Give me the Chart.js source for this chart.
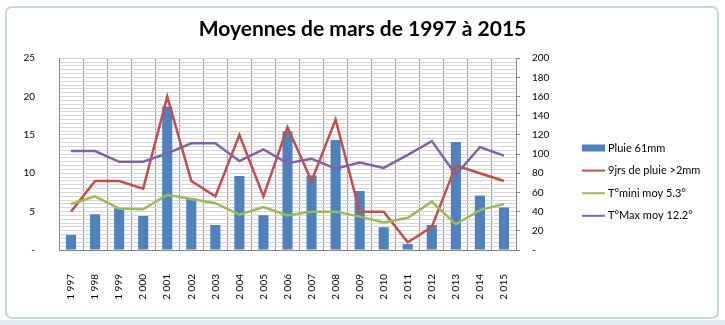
<!DOCTYPE html>
<html lang="fr">
<head>
<meta charset="utf-8">
<title>Moyennes de mars de 1997 à 2015</title>
<script src="https://cdn.jsdelivr.net/npm/chart.js@4/dist/chart.umd.min.js"></script>
<style>
	html, body { margin: 0; padding: 0; background: #fff; }
	#page { position: relative; width: 725px; height: 325px; overflow: hidden; }
	#cadre {
		position: absolute; left: 5px; top: 6px; width: 710px; height: 309px;
		border: 2px solid #c4d9df; border-radius: 7px; background: #fff;
	}
	#bas { position: absolute; left: 0; top: 320px; width: 725px; height: 5px; background: #e2ebf1; }
	#graphe { position: absolute; left: 0; top: 0; }
</style>
</head>
<body>
<div id="page">
	<div id="bas"></div>
	<div id="cadre"></div>
	<canvas id="graphe" width="725" height="325"></canvas>
</div>
<script>
// années de mars (format français)
var annees = ['1 997', '1 998', '1 999', '2 000', '2 001', '2 002', '2 003', '2 004', '2 005', '2 006',
	'2 007', '2 008', '2 009', '2 010', '2 011', '2 012', '2 013', '2 014', '2 015'];

// pluie du mois en mm (axe de droite)
var pluieMm = [15.7, 37.2, 43.5, 35.5, 149.6, 53.9, 26, 77.2, 36.2, 123.5,
	77.6, 114.8, 61.6, 23.7, 6.3, 26, 112.7, 56.7, 44.2];

// jours de pluie > 2mm (axe de gauche)
var joursPluie = [5, 9, 9, 8, 20, 9, 7, 15, 7, 16, 9, 17, 5, 5, 1, 3, 11, 10, 9];

// températures moyennes
var tMini = [6, 7, 5.4, 5.3, 7.2, 6.65, 6.1, 4.6, 5.6, 4.5, 5, 5, 4.35, 3.6, 4.2, 6.3, 3.35, 5.2, 6];
var tMax = [12.9, 12.9, 11.5, 11.5, 12.6, 13.9, 13.9, 11.6, 13.1, 11.3, 11.9, 10.6, 11.4, 10.7, 12.4, 14.2, 9.8, 13.4, 12.3];

var titre = 'Moyennes de mars de 1997 à 2015';
var police = 'Lato, "Open Sans", sans-serif';

// légende dessinée à droite du graphe, dans l'ordre des séries
var legendeDroite = {
	id: 'legendeDroite',
	afterDraw: function(chart) {
		var ctx = chart.ctx;
		var x = chart.chartArea.right + 66;
		var y = 148;
		var pas = 22.6;
		chart.data.datasets.forEach(function(ds, i) {
			var cy = y + i * pas;
			ctx.save();
			if (ds.type === 'bar') {
				ctx.fillStyle = ds.backgroundColor;
				ctx.fillRect(x, cy - 3.5, 23, 7);
			} else {
				ctx.strokeStyle = ds.borderColor;
				ctx.lineWidth = 2;
				ctx.beginPath();
				ctx.moveTo(x, cy);
				ctx.lineTo(x + 23, cy);
				ctx.stroke();
			}
			ctx.fillStyle = '#000';
			ctx.font = '11px ' + police;
			ctx.textBaseline = 'middle';
			ctx.fillText(ds.label, x + 26, cy);
			ctx.restore();
		});
	}
};

var etiquette = function(pas) {
	return function(v) {
		if (v % pas !== 0) {
			return '';
		}
		return v === 0 ? '-' : v;
	};
};

var ctx = document.getElementById('graphe').getContext('2d');
new Chart(ctx, {
	data: {
		labels: annees,
		datasets: [
			{
				type: 'bar', label: 'Pluie 61mm', data: pluieMm, yAxisID: 'y1',
				backgroundColor: '#4f81bd', barPercentage: 0.42, categoryPercentage: 1, order: 4
			},
			{
				type: 'line', label: '9jrs de pluie >2mm', data: joursPluie, yAxisID: 'y',
				borderColor: '#c0504d', borderWidth: 2.5, pointRadius: 0, tension: 0, order: 3
			},
			{
				type: 'line', label: 'T°mini moy 5.3°', data: tMini, yAxisID: 'y',
				borderColor: '#9bbb59', borderWidth: 2.5, pointRadius: 0, tension: 0, order: 2
			},
			{
				type: 'line', label: 'T°Max moy 12.2°', data: tMax, yAxisID: 'y',
				borderColor: '#8064a2', borderWidth: 2.5, pointRadius: 0, tension: 0, order: 1
			}
		]
	},
	options: {
		responsive: false,
		animation: false,
		// la place de la légende est prise par l'axe de droite pour garder le titre centré
		layout: { padding: { left: 0, right: 0, top: 0, bottom: 15 } },
		plugins: {
			legend: { display: false },
			tooltip: { enabled: false },
			title: {
				display: true, text: titre, color: '#000',
				font: { family: police, size: 21, weight: 'bold' },
				padding: { top: 17, bottom: 16 }
			}
		},
		scales: {
			x: {
				offset: true,
				grid: { offset: true, color: '#9c9c9c', drawTicks: false },
				border: { color: '#868686' },
				ticks: {
					maxRotation: 90, minRotation: 90, padding: 24, autoSkip: false,
					color: '#000', font: { family: police, size: 10 }
				},
				afterFit: function(s) { s.height = 60; }
			},
			y: {
				position: 'left', min: 0, max: 25,
				grid: { color: '#c2c2c2', drawTicks: false },
				border: { color: '#868686' },
				ticks: {
					stepSize: 1, autoSkip: false, padding: 24, callback: etiquette(5),
					color: '#000', font: { family: police, size: 10 }
				},
				afterFit: function(s) { s.width = 59; }
			},
			y1: {
				position: 'right', min: 0, max: 200,
				grid: {
					color: '#d6d6d6', tickLength: 4,
					tickColor: function(c) { return c.tick && c.tick.value % 20 === 0 ? '#868686' : 'rgba(0,0,0,0)'; }
				},
				border: { color: '#868686' },
				ticks: {
					stepSize: 4, autoSkip: false, padding: 12, callback: etiquette(20),
					color: '#000', font: { family: police, size: 10 }
				},
				afterFit: function(s) { s.width = 209; }
			}
		}
	},
	plugins: [legendeDroite]
});
</script>
</body>
</html>
